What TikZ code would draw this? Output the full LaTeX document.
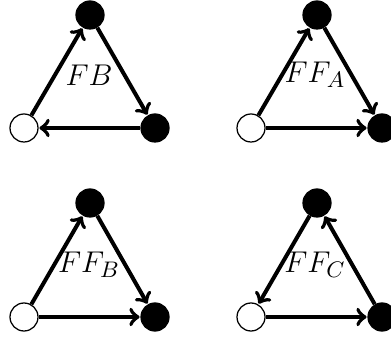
\documentclass[tikz,border=0pt]{standalone}
\begin{document}
\begin{tikzpicture}[x=0.4pt,y=-0.4pt,
  wnode/.style={circle,draw=black,fill=white,line width=0.5pt,minimum size=11.2pt,inner sep=0pt},
  bnode/.style={circle,draw=black,fill=black,line width=0.5pt,minimum size=11.2pt,inner sep=0pt},
  edge/.style={line width=1.6pt,->,shorten >=0.3pt},
  lab/.style={font=\fontsize{12.5}{15}\selectfont,inner sep=0pt}]
\useasboundingbox (0,0) rectangle (391,337);
% top-left: FB
\node[wnode] (w1) at (24,128) {};
\node[bnode] (t1) at (90,15) {};
\node[bnode] (r1) at (155,128) {};
\node[lab] (l1) at (89,75) {$FB$};
\draw[edge] (w1) -- (t1);
\draw[edge] (t1) -- (r1);
\draw[edge] (r1) -- (w1);
% top-right: FF_A
\node[wnode] (w2) at (251,128) {};
\node[bnode] (t2) at (317,15) {};
\node[bnode] (r2) at (382,128) {};
\node[lab] (l2) at (315,75) {$FF_A$};
\draw[edge] (w2) -- (t2);
\draw[edge] (t2) -- (r2);
\draw[edge] (w2) -- (r2);
% bottom-left: FF_B
\node[wnode] (w3) at (24,317) {};
\node[bnode] (t3) at (90,203) {};
\node[bnode] (r3) at (155,317) {};
\node[lab] (l3) at (89,265) {$FF_B$};
\draw[edge] (w3) -- (t3);
\draw[edge] (t3) -- (r3);
\draw[edge] (w3) -- (r3);
% bottom-right: FF_C
\node[wnode] (w4) at (251,317) {};
\node[bnode] (t4) at (317,203) {};
\node[bnode] (r4) at (382,317) {};
\node[lab] (l4) at (315,265) {$FF_C$};
\draw[edge] (t4) -- (w4);
\draw[edge] (r4) -- (t4);
\draw[edge] (w4) -- (r4);
\end{tikzpicture}
\end{document}
